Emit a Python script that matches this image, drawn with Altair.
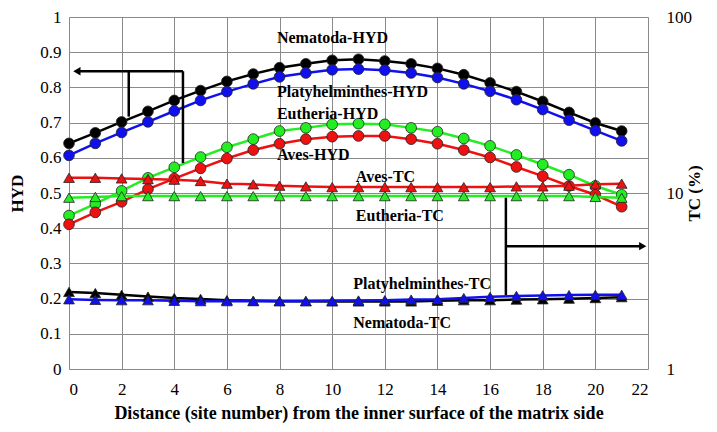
import altair as alt
import pandas as pd

sites = list(range(22))

# HYD series (left axis)
nematoda_hyd = [0.641, 0.671, 0.702, 0.732, 0.763, 0.791, 0.817, 0.838, 0.856, 0.867, 0.877,
                0.880, 0.875, 0.867, 0.854, 0.836, 0.813, 0.788, 0.760, 0.729, 0.699, 0.676]
platy_hyd = [0.607, 0.641, 0.672, 0.702, 0.733, 0.763, 0.788, 0.810, 0.830, 0.841, 0.850,
             0.852, 0.849, 0.841, 0.828, 0.810, 0.789, 0.765, 0.737, 0.707, 0.677, 0.648]
eutheria_hyd = [0.436, 0.469, 0.506, 0.543, 0.573, 0.602, 0.630, 0.653, 0.676, 0.685, 0.695,
                0.697, 0.695, 0.685, 0.674, 0.655, 0.634, 0.608, 0.581, 0.552, 0.520, 0.495]
aves_hyd = [0.411, 0.445, 0.475, 0.511, 0.541, 0.570, 0.598, 0.622, 0.640, 0.653, 0.660,
            0.662, 0.662, 0.653, 0.640, 0.622, 0.601, 0.574, 0.548, 0.520, 0.495, 0.461]

# TC series (right axis, %, log scale)
aves_tc = [12.2, 12.2, 12.1, 12.0, 11.9, 11.7, 11.3, 11.2, 11.0, 10.9, 10.8,
           10.8, 10.8, 10.8, 10.8, 10.8, 10.8, 10.9, 10.9, 11.0, 11.2, 11.3]
eutheria_tc = [9.4, 9.5, 9.6, 9.6, 9.6, 9.6, 9.6, 9.6, 9.6, 9.6, 9.6,
               9.6, 9.6, 9.6, 9.6, 9.6, 9.6, 9.6, 9.6, 9.6, 9.5, 9.4]
nematoda_tc = [2.74, 2.70, 2.64, 2.58, 2.53, 2.50, 2.46, 2.44, 2.43, 2.43, 2.42,
               2.42, 2.42, 2.42, 2.44, 2.46, 2.46, 2.48, 2.49, 2.51, 2.53, 2.56]
platy_tc = [2.49, 2.47, 2.46, 2.46, 2.44, 2.43, 2.43, 2.43, 2.43, 2.43, 2.44,
            2.45, 2.46, 2.48, 2.49, 2.53, 2.57, 2.60, 2.62, 2.63, 2.64, 2.64]

series_names = ["Nematoda", "Platyhelminthes", "Eutheria", "Aves"]
series_colors = ["#000000", "#1010ee", "#22ee22", "#ee1111"]

# annotation labels (x in site units, y in HYD units)
label_text = ["Nematoda-HYD", "Platyhelminthes-HYD", "Eutheria-HYD", "Aves-HYD",
              "Aves-TC", "Eutheria-TC", "Platyhelminthes-TC", "Nematoda-TC"]
label_x = [7.9, 7.9, 7.9, 7.9, 10.9, 10.9, 10.8, 10.8]
label_y = [0.939, 0.787, 0.725, 0.607, 0.546, 0.436, 0.242, 0.130]

# arrow segments (x, x2, y, y2 in data units)
seg_x = [0.35, 4.33, 2.27, 16.6, 16.6]
seg_x2 = [4.33, 4.33, 2.27, 16.6, 21.75]
seg_y = [0.846, 0.846, 0.846, 0.487, 0.349]
seg_y2 = [0.846, 0.585, 0.717, 0.209, 0.349]
head_x = [0.3, 21.8]
head_y = [0.846, 0.349]
head_shape = ["triangle-left", "triangle-right"]

hyd_rows = []
for name, vals in zip(series_names, [nematoda_hyd, platy_hyd, eutheria_hyd, aves_hyd]):
    for s, v in zip(sites, vals):
        hyd_rows.append({"site": s, "v": v, "series": name})
hyd_df = pd.DataFrame(hyd_rows)

tc_rows = []
for name, vals in zip(series_names, [nematoda_tc, platy_tc, eutheria_tc, aves_tc]):
    for s, v in zip(sites, vals):
        tc_rows.append({"site": s, "tc": v, "series": name})
tc_df = pd.DataFrame(tc_rows)

lab_df = pd.DataFrame({"x": label_x, "v": label_y, "t": label_text})
seg_df = pd.DataFrame({"x": seg_x, "x2": seg_x2, "v": seg_y, "v2": seg_y2})
head_df = pd.DataFrame({"x": head_x, "v": head_y, "shape": head_shape})

FONT = "Liberation Serif, Times New Roman, serif"

color = alt.Color("series:N", scale=alt.Scale(domain=series_names, range=series_colors), legend=None)

x_axis = alt.Axis(values=list(range(0, 23, 2)), grid=True, gridColor="#8a8a8a", ticks=False,
                  domain=False, labelFont=FONT, labelFontSize=17, labelPadding=12,
                  labelColor="#000", title="Distance (site number) from the inner  surface of the matrix side",
                  titleFont=FONT, titleFontSize=18, titleFontWeight="bold", titlePadding=7, titleColor="#000")
x_scale = alt.Scale(domain=[0, 22], nice=False)

y_hyd_axis = alt.Axis(values=[i / 10 for i in range(11)], format=".1~f", grid=True, gridColor="#8a8a8a",
                      ticks=False, domain=False, labelFont=FONT, labelFontSize=17, labelPadding=8,
                      labelColor="#000", title="HYD", titleFont=FONT, titleFontSize=17,
                      titleFontWeight="bold", titlePadding=13, titleColor="#000")
y_hyd_scale = alt.Scale(domain=[0, 1], nice=False)

def X(field="site"):
    return alt.X(f"{field}:Q", scale=x_scale, axis=x_axis)

def YH(field="v"):
    return alt.Y(f"{field}:Q", scale=y_hyd_scale, axis=y_hyd_axis)

fill = alt.Fill("series:N", scale=alt.Scale(domain=series_names, range=series_colors), legend=None)

hyd_lines = alt.Chart(hyd_df).mark_line(strokeWidth=2.5).encode(
    x=X(), y=YH(), color=color, detail="series:N")
hyd_points = alt.Chart(hyd_df).mark_point(shape="circle", filled=True, size=115, opacity=1,
                                          stroke="#222", strokeWidth=0.8).encode(
    x=X(), y=YH(), fill=fill)

labels = alt.Chart(lab_df).mark_text(align="left", baseline="middle", font=FONT, fontSize=16,
                                     fontWeight="bold", color="#000").encode(
    x=X("x"), y=YH("v"), text="t:N")

segs = alt.Chart(seg_df).mark_rule(strokeWidth=2.5, color="#000").encode(
    x=X("x"), x2="x2:Q", y=YH("v"), y2="v2:Q")
heads = alt.Chart(head_df).mark_point(filled=True, size=70, color="#000", opacity=1).encode(
    x=X("x"), y=YH("v"), shape=alt.Shape("shape:N", scale=None))

hyd_group = alt.layer(hyd_lines, hyd_points, labels, segs, heads)

y_tc_axis = alt.Axis(orient="right", values=[1, 10, 100], format="~g", grid=False, ticks=False, domain=False,
                     labelFont=FONT, labelFontSize=17, labelPadding=18, labelColor="#000",
                     title="TC (%)", titleFont=FONT, titleFontSize=17, titleFontWeight="bold",
                     titlePadding=12, titleColor="#000", titleAngle=270)
y_tc_scale = alt.Scale(type="log", domain=[1, 100], nice=False)

tc_lines = alt.Chart(tc_df).mark_line(strokeWidth=2.5).encode(
    x=X(), y=alt.Y("tc:Q", scale=y_tc_scale, axis=y_tc_axis), color=color, detail="series:N")
tc_points = alt.Chart(tc_df).mark_point(shape="triangle-up", filled=True, size=115, opacity=1,
                                        stroke="#222", strokeWidth=0.8).encode(
    x=X(), y=alt.Y("tc:Q", scale=y_tc_scale, axis=y_tc_axis), fill=fill)

tc_group = alt.layer(tc_lines, tc_points)

chart = alt.layer(hyd_group, tc_group).resolve_scale(y="independent").properties(
    width=579, height=352,
    autosize="none",
    padding={"left": 61, "top": 9, "right": 55, "bottom": 60},
).configure_view(stroke="#6a6a6a", strokeWidth=1.2).configure(background="white", font=FONT)

chart.save("out.html", embed_options={"renderer": "svg", "actions": False})
